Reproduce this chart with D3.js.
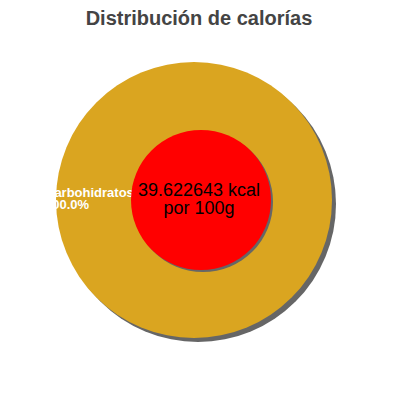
<!doctype html>
<html>
  <head>
    <meta charset="utf-8">
    <script src="https://cdn.jsdelivr.net/npm/d3@7"></script>
    <title>Distribución de calorías</title>
    <style>
      body { margin: 0; background: #fff; }
      text { font-family: "Liberation Sans", Arial, sans-serif; }
    </style>
  </head>
  <body>
    <div id="chart"></div>
    <script>
      const categories = ["Carbohidratos"];
      const values = [100];
      const colors = ["#DAA520"];
      const kcal = "39.622643";
      const title = "Distribución de calorías";

      (function() {
        const width = 400,
          height = 400;

        const svg = d3.select("#chart").append("svg")
          .attr("width", width)
          .attr("height", height);

        svg.append("text")
          .attr("x", 199)
          .attr("y", 25)
          .attr("text-anchor", "middle")
          .style("font-size", "20px")
          .style("font-weight", "bold")
          .style("fill", "#444")
          .text(title);

        const cx = 194, cy = 200, outerR = 138, innerR = 70;

        let pie = d3.pie().sort(null)(values);
        let arc = d3.arc().innerRadius(0).outerRadius(outerR);

        let g = svg.append("g")
          .attr("transform", "translate(" + cx + "," + cy + ")");

        // shadow of outer pie
        g.append("circle")
          .attr("cx", 4)
          .attr("cy", 4)
          .attr("r", outerR)
          .style("fill", "#666");

        g.selectAll("path.slice")
          .data(pie)
          .enter().append("path")
            .attr("class", "slice")
            .attr("d", arc)
            .style("fill", (d, i) => colors[i]);

        // labels, left side of the ring
        let lab = g.selectAll("text.lab")
          .data(pie)
          .enter().append("text")
            .attr("class", "lab")
            .attr("x", -outerR - 11)
            .attr("y", -3)
            .style("font-size", "13px")
            .style("font-weight", "bold")
            .style("fill", "#fff");

        lab.append("tspan")
          .text((d, i) => categories[i]);
        lab.append("tspan")
          .attr("x", -outerR - 11)
          .attr("dy", 12)
          .text(d => ((d.endAngle - d.startAngle) / (2 * Math.PI) * 100).toFixed(1) + "%");

        // centre disc
        let c = svg.append("g")
          .attr("transform", "translate(" + (cx + 7) + "," + cy + ")");

        c.append("circle")
          .attr("cx", 2)
          .attr("cy", 2)
          .attr("r", innerR)
          .style("fill", "#666");

        c.append("circle")
          .attr("r", innerR)
          .style("fill", "red");

        let t = c.append("text")
          .attr("text-anchor", "middle")
          .style("font-size", "18px")
          .style("fill", "#000");

        t.append("tspan")
          .attr("x", -2)
          .attr("y", -4)
          .text(kcal + " kcal");

        t.append("tspan")
          .attr("x", -2)
          .attr("y", 14)
          .text("por 100g");
      })();
    </script>
  </body>
</html>
